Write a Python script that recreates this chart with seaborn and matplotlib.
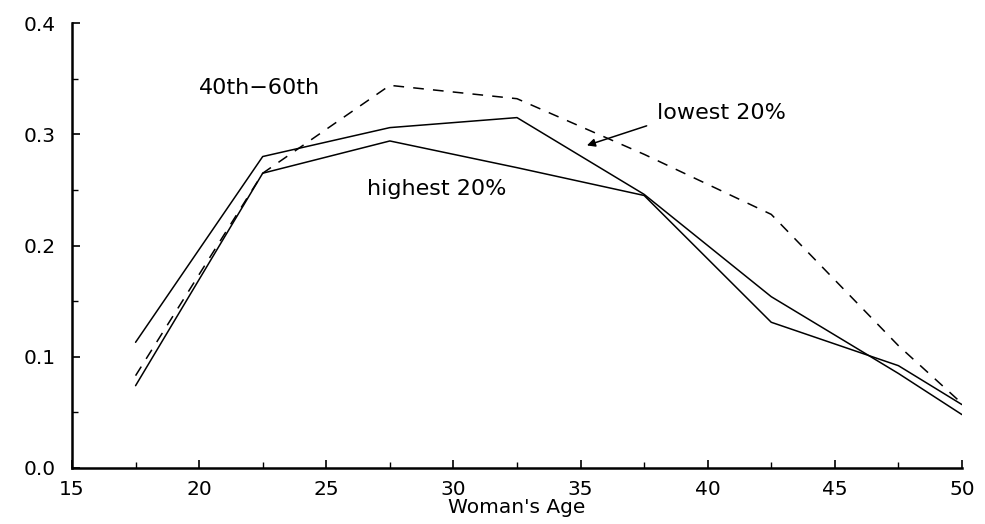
import matplotlib
matplotlib.use("Agg")
import matplotlib.pyplot as plt
import matplotlib.ticker as mticker
import seaborn as sns
import pandas as pd

# --- DATA ---
ages = [17.5, 22.5, 27.5, 32.5, 37.5, 42.5, 47.5, 50]
lowest_20 = [0.113, 0.280, 0.306, 0.315, 0.246, 0.154, 0.085, 0.048]
highest_20 = [0.074, 0.265, 0.294, 0.270, 0.245, 0.131, 0.092, 0.057]
middle_40_60 = [0.083, 0.265, 0.344, 0.332, 0.282, 0.228, 0.110, 0.058]

x_ticks = [15, 20, 25, 30, 35, 40, 45, 50]
y_ticks = [0.0, 0.1, 0.2, 0.3, 0.4]

df = pd.DataFrame({
    "age": ages * 3,
    "share": lowest_20 + highest_20 + middle_40_60,
    "group": ["lowest 20%"] * len(ages) + ["highest 20%"] * len(ages)
             + ["40th-60th"] * len(ages),
})

sns.set_theme(style="white")
plt.rcParams["font.family"] = ["DejaVu Sans"]
plt.rcParams["text.color"] = "black"

fig = plt.figure(figsize=(9.85, 5.24), dpi=100)
ax = fig.add_axes([0.0731, 0.1069, 0.9035, 0.8491])

lw = 1.1
sns.lineplot(data=df[df.group == "lowest 20%"], x="age", y="share",
             color="black", linewidth=lw, ax=ax, sort=False)
sns.lineplot(data=df[df.group == "highest 20%"], x="age", y="share",
             color="black", linewidth=lw, ax=ax, sort=False)
sns.lineplot(data=df[df.group == "40th-60th"], x="age", y="share",
             color="black", linewidth=lw, ax=ax, sort=False,
             linestyle=(0, (7, 6)))

ax.set_xlim(15, 50)
ax.set_ylim(0, 0.4)
ax.set_xticks(x_ticks)
ax.set_yticks(y_ticks)
ax.xaxis.set_minor_locator(mticker.MultipleLocator(2.5))
ax.yaxis.set_minor_locator(mticker.MultipleLocator(0.05))
ax.yaxis.set_major_formatter(mticker.FormatStrFormatter("%.1f"))

ax.tick_params(axis="both", which="major", direction="in", length=6,
               width=1.2, color="black", labelsize=14.5, labelcolor="black")
ax.tick_params(axis="both", which="minor", direction="in", length=4,
               width=1.0, color="black")
ax.tick_params(axis="x", which="major", pad=9)
ax.tick_params(axis="y", which="major", pad=12)
ax.tick_params(bottom=True, left=True, which="both")

for side in ["top", "right"]:
    ax.spines[side].set_visible(False)
for side in ["left", "bottom"]:
    ax.spines[side].set_color("black")
    ax.spines[side].set_linewidth(1.8)

ax.set_xlabel("Woman's Age", fontsize=14.5, color="black", labelpad=-1)
ax.set_ylabel("")

# annotations
ax.text(20.0, 0.342, "40th\u221260th", fontsize=16, va="center", ha="left")
ax.text(26.6, 0.251, "highest 20%", fontsize=16, va="center", ha="left")
ax.text(38.0, 0.319, "lowest 20%", fontsize=16, va="center", ha="left")
ax.annotate("", xy=(35.25, 0.290), xytext=(37.6, 0.3076),
            arrowprops=dict(arrowstyle="-|>", color="black", lw=1.1,
                            mutation_scale=12, shrinkA=0, shrinkB=0))

fig.savefig("out.png", dpi=100, facecolor="white")
